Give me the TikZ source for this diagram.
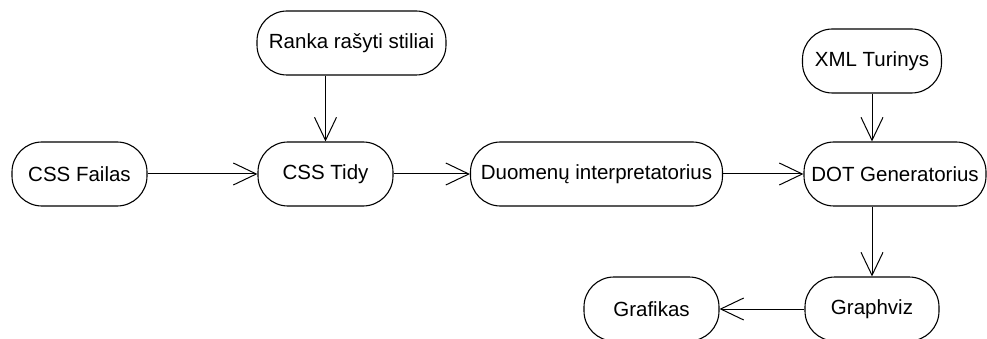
\documentclass[tikz,border=0pt]{standalone}
\usepackage{fontspec}
\setmainfont{Liberation Sans}
\usetikzlibrary{arrows.meta}
\begin{document}
\begin{tikzpicture}[x=1pt,y=-1pt,
  proc/.style={draw=black, line width=1.1pt, rounded corners=30pt,
    minimum height=64pt, inner sep=0pt, font=\fontsize{20.5}{24}\selectfont},
  conn/.style={draw=black, line width=1pt, -{Straight Barb[length=23pt,width=22pt,line width=1pt]}}]
\useasboundingbox (0,0) rectangle (987,339);
\clip (0,0) rectangle (987,339);
\node[proc, minimum width=135pt] (failas) at (79.5,174) {CSS Failas};
\node[proc, minimum width=135pt] (tidy) at (325.5,174) {CSS Tidy};
\node[proc, minimum width=189pt] (ranka) at (351.5,43) {Ranka rašyti stiliai};
\node[proc, minimum width=252pt] (duom) at (596.5,174) {Duomenų interpretatorius};
\node[proc, minimum width=182pt] (dot) at (895,174) {DOT Generatorius};
\node[proc, minimum width=139pt] (xml) at (872,61) {XML Turinys};
\node[proc, minimum width=134pt] (graphviz) at (872,309) {Graphviz};
\node[proc, minimum width=135pt] (grafikas) at (651.5,309) {Grafikas};
\draw[conn] (failas.east) -- (tidy.west);
\draw[conn] (ranka.south -| tidy.north) -- (tidy.north);
\draw[conn] (tidy.east) -- (duom.west);
\draw[conn] (duom.east) -- (dot.west);
\draw[conn] (xml.south) -- (xml.south |- dot.north);
\draw[conn] (graphviz.north |- dot.south) -- (graphviz.north);
\draw[conn] (graphviz.west) -- (grafikas.east);
\end{tikzpicture}
\end{document}
